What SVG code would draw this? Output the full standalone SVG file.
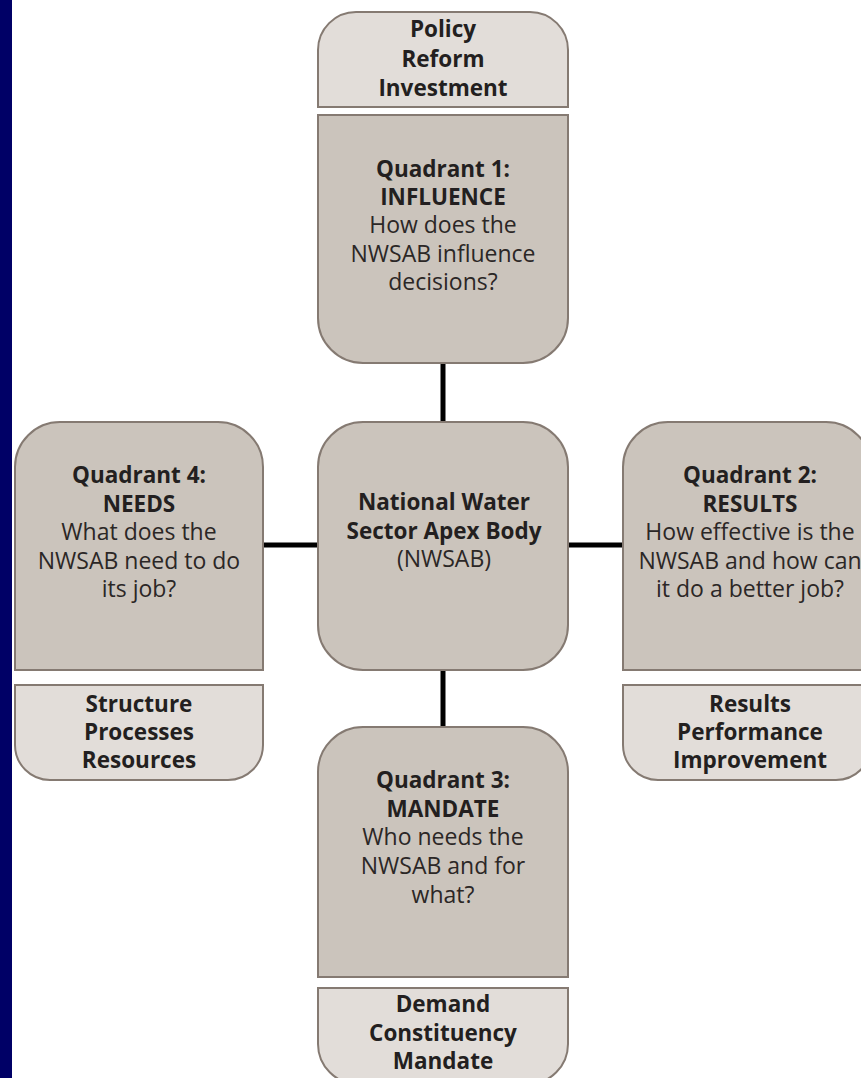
<svg xmlns="http://www.w3.org/2000/svg" width="861" height="1078" viewBox="0 0 861 1078">
<style>
.dark{fill:#cbc4bc;stroke:#857a72;stroke-width:2}
.light{fill:#e2ddd9;stroke:#857a72;stroke-width:2}
.conn{stroke:#000;stroke-width:5;fill:none}
text{font-family:"Open Sans","DejaVu Sans",sans-serif;font-size:23px;fill:#2b2726;text-anchor:middle}
.b{font-weight:bold;font-size:22.5px;fill:#231f20}
</style>
<rect x="0" y="0" width="861" height="1078" fill="#ffffff"/>
<rect x="0" y="0" width="12" height="1078" fill="#000066"/>
<g id="connectors">
<line class="conn" x1="443" y1="363" x2="443" y2="422"/>
<line class="conn" x1="443" y1="670" x2="443" y2="727"/>
<line class="conn" x1="263" y1="545" x2="318" y2="545"/>
<line class="conn" x1="568" y1="545" x2="623" y2="545"/>
</g>
<g id="q1-tag">
<path class="light" d="M318,107 V50 A38,38 0 0 1 356,12 H530 A38,38 0 0 1 568,50 V107 Z"/>
<text class="b" x="443" y="37">Policy</text>
<text class="b" x="443" y="67">Reform</text>
<text class="b" x="443" y="96">Investment</text>
</g>
<g id="q1">
<path class="dark" d="M318,115 H568 V318 A45,45 0 0 1 523,363 H363 A45,45 0 0 1 318,318 Z"/>
<text class="b" x="443" y="177">Quadrant 1:</text>
<text class="b" x="443" y="205">INFLUENCE</text>
<text x="443" y="233">How does the</text>
<text x="443" y="262">NWSAB influence</text>
<text x="443" y="290">decisions?</text>
</g>
<g id="center">
<rect class="dark" x="318" y="422" width="250" height="248" rx="45"/>
<text class="b" x="444" y="510">National Water</text>
<text class="b" x="444" y="539">Sector Apex Body</text>
<text x="444" y="567">(NWSAB)</text>
</g>
<g id="q4">
<path class="dark" d="M15,670 V467 A45,45 0 0 1 60,422 H218 A45,45 0 0 1 263,467 V670 Z"/>
<text class="b" x="139" y="483">Quadrant 4:</text>
<text class="b" x="139" y="512">NEEDS</text>
<text x="139" y="540">What does the</text>
<text x="139" y="569">NWSAB need to do</text>
<text x="139" y="597">its job?</text>
</g>
<g id="q4-tag">
<path class="light" d="M15,685 H263 V745 A35,35 0 0 1 228,780 H50 A35,35 0 0 1 15,745 Z"/>
<text class="b" x="139" y="712">Structure</text>
<text class="b" x="139" y="740">Processes</text>
<text class="b" x="139" y="768">Resources</text>
</g>
<g id="q2">
<path class="dark" d="M623,670 V467 A45,45 0 0 1 668,422 H826 A45,45 0 0 1 871,467 V670 Z"/>
<text class="b" x="750" y="483">Quadrant 2:</text>
<text class="b" x="750" y="512">RESULTS</text>
<text x="750" y="540">How effective is the</text>
<text x="750" y="569">NWSAB and how can</text>
<text x="750" y="597">it do a better job?</text>
</g>
<g id="q2-tag">
<path class="light" d="M623,685 H871 V745 A35,35 0 0 1 836,780 H658 A35,35 0 0 1 623,745 Z"/>
<text class="b" x="750" y="712">Results</text>
<text class="b" x="750" y="740">Performance</text>
<text class="b" x="750" y="768">Improvement</text>
</g>
<g id="q3">
<path class="dark" d="M318,977 V772 A45,45 0 0 1 363,727 H523 A45,45 0 0 1 568,772 V977 Z"/>
<text class="b" x="443" y="788">Quadrant 3:</text>
<text class="b" x="443" y="817">MANDATE</text>
<text x="443" y="845">Who needs the</text>
<text x="443" y="874">NWSAB and for</text>
<text x="443" y="903">what?</text>
</g>
<g id="q3-tag">
<path class="light" d="M318,988 H568 V1044 A40,40 0 0 1 528,1084 H358 A40,40 0 0 1 318,1044 Z"/>
<text class="b" x="443" y="1012">Demand</text>
<text class="b" x="443" y="1041">Constituency</text>
<text class="b" x="443" y="1069">Mandate</text>
</g>
</svg>
